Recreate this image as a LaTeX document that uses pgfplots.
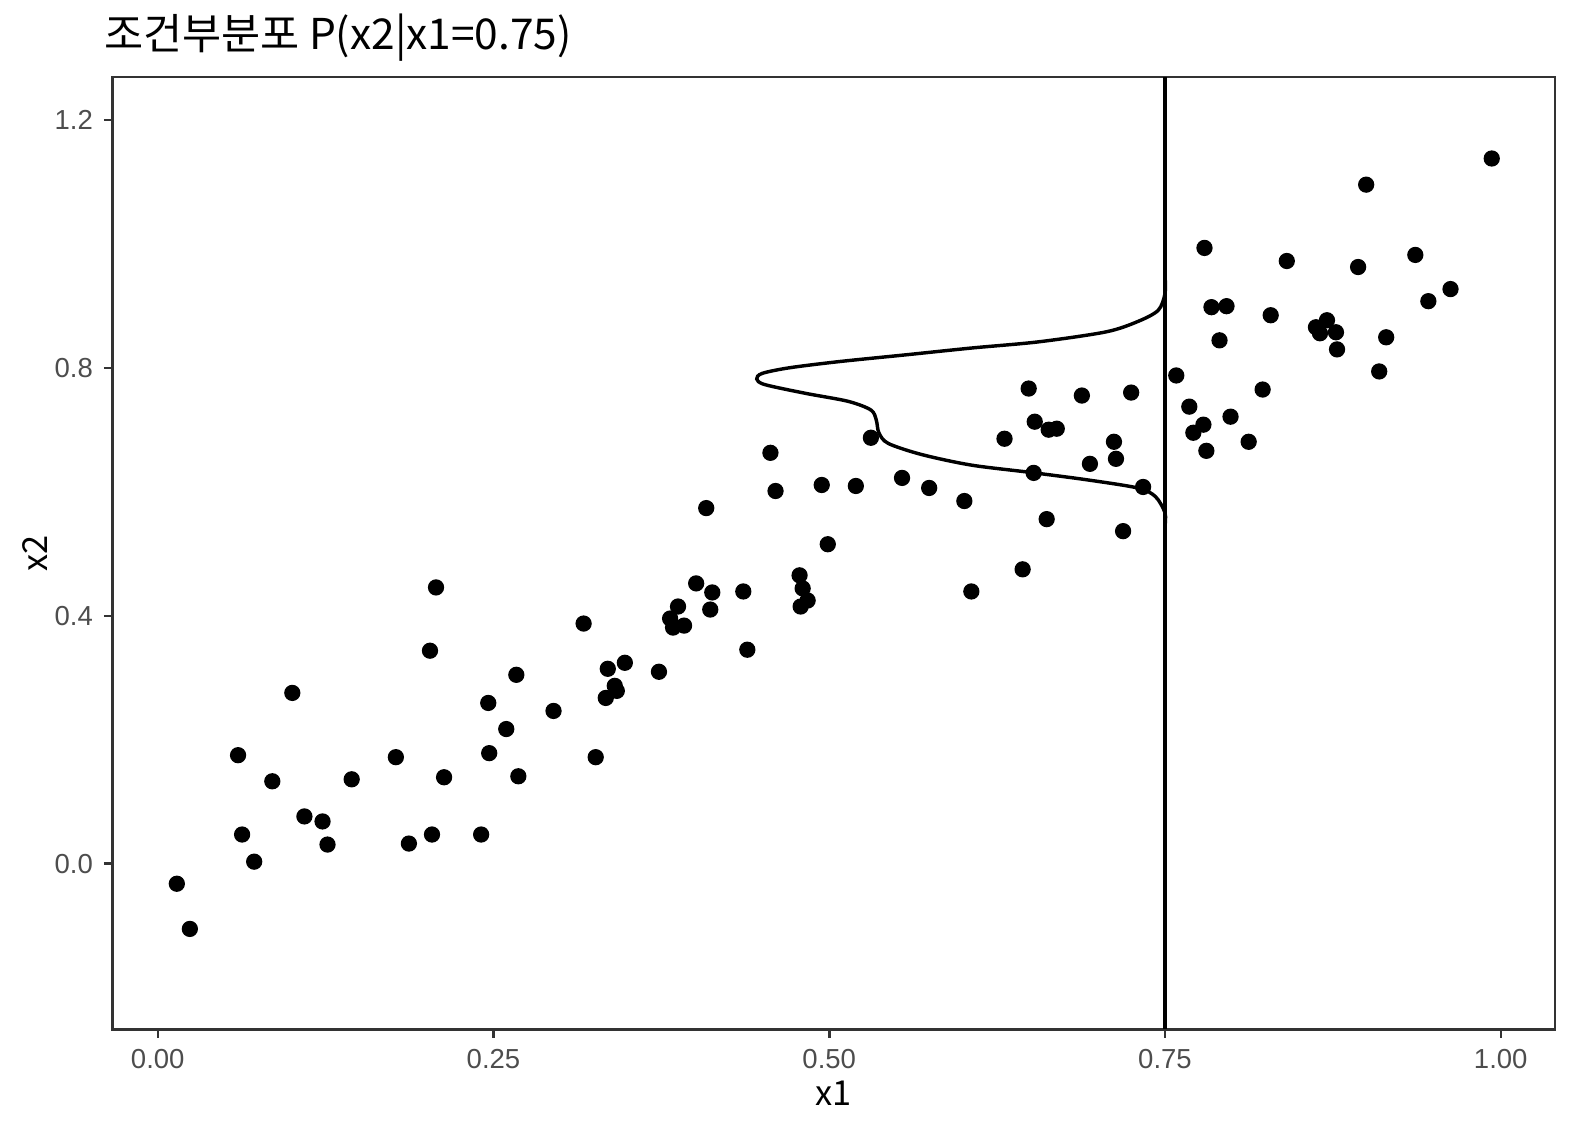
\documentclass[border=0pt]{standalone}
\usepackage{fontspec}
\setmainfont{Noto Sans CJK KR}
\newfontfamily\tickfont{Liberation Sans}
\usepackage{pgfplots}
\pgfplotsset{compat=1.18}
\definecolor{grey20}{HTML}{333333}
\definecolor{grey30}{HTML}{4D4D4D}
\begin{document}
\begin{tikzpicture}
\begin{axis}[
  at={(0,0)}, anchor=south west,
  scale only axis, width=461.6pt, height=304.7pt,
  xmin=-0.0337, xmax=1.0404, ymin=-0.2674, ymax=1.269,
  axis line style={grey20, line width=0.8pt},
  tick align=outside, major tick length=2.75pt,
  tick style={grey20, line width=0.8pt},
  xtick pos=bottom, ytick pos=left,
  xtick={0,0.25,0.5,0.75,1}, xticklabels={0.00,0.25,0.50,0.75,1.00},
  ytick={0,0.4,0.8,1.2}, yticklabels={0.0,0.4,0.8,1.2},
  /pgf/number format/assume math mode=true,
  ticklabel style={font=\tickfont\fontsize{8.8}{10}\selectfont, text=grey30},
]
\addplot[only marks, mark=*, mark size=2.4pt, black] coordinates {
(0.0142,-0.0324) (0.0239,-0.1053) (0.0598,0.1750) (0.0628,0.0470) (0.0718,0.0032)
(0.0853,0.1329) (0.1002,0.2755) (0.1092,0.0762) (0.1227,0.0681) (0.1264,0.0308)
(0.1444,0.1361) (0.1773,0.1718) (0.1870,0.0324) (0.2027,0.3436) (0.2042,0.0470)
(0.2072,0.4457) (0.2132,0.1394) (0.2408,0.0470) (0.2461,0.2593) (0.2468,0.1783)
(0.2595,0.2172) (0.2670,0.3047) (0.2685,0.1410) (0.2947,0.2464) (0.3171,0.3874)
(0.3261,0.1718) (0.3336,0.2674) (0.3351,0.3144) (0.3403,0.2869) (0.3418,0.2788)
(0.3478,0.3241) (0.3732,0.3096) (0.3815,0.3955) (0.3837,0.3809) (0.3874,0.4149)
(0.3919,0.3841) (0.4009,0.4522) (0.4084,0.5737) (0.4114,0.4100) (0.4129,0.4376)
(0.4360,0.4392) (0.4390,0.3452) (0.4562,0.6629) (0.4600,0.6013) (0.4779,0.4652)
(0.4787,0.4149) (0.4802,0.4441) (0.4839,0.4246) (0.4944,0.6110) (0.4989,0.5154)
(0.5198,0.6094) (0.5310,0.6872) (0.5542,0.6224) (0.5744,0.6062) (0.6006,0.5851)
(0.6058,0.4392) (0.6305,0.6856) (0.6440,0.4749) (0.6485,0.7666) (0.6522,0.6305)
(0.6530,0.7131) (0.6619,0.5559) (0.6634,0.7002) (0.6694,0.7018) (0.6881,0.7553)
(0.6941,0.6451) (0.7120,0.6807) (0.7135,0.6532) (0.7188,0.5365) (0.7248,0.7601)
(0.7337,0.6078) (0.7584,0.7877) (0.7681,0.7374) (0.7711,0.6953) (0.7786,0.7083)
(0.7794,0.9935) (0.7808,0.6661) (0.7846,0.8979) (0.7906,0.8444) (0.7958,0.8995)
(0.7988,0.7212) (0.8123,0.6807) (0.8227,0.7650) (0.8287,0.8849) (0.8407,0.9724)
(0.8624,0.8655) (0.8654,0.8558) (0.8706,0.8768) (0.8773,0.8574) (0.8781,0.8298)
(0.8938,0.9627) (0.8998,1.0956) (0.9095,0.7942) (0.9147,0.8493) (0.9364,0.9822)
(0.9461,0.9076) (0.9626,0.9271) (0.9933,1.1378)
};
\addplot[black, line width=1.1pt] coordinates {(0.75,-0.2674) (0.75,1.269)};
\addplot[black, line width=1.1pt, smooth, tension=0.5] coordinates {
(0.75,0.545) (0.75,0.566) (0.743,0.592) (0.730,0.606) (0.693,0.619) (0.651,0.631)
(0.606,0.643) (0.569,0.660) (0.544,0.678) (0.537,0.695) (0.535,0.716) (0.531,0.732)
(0.514,0.746) (0.482,0.759) (0.452,0.773) (0.446,0.782) (0.450,0.791) (0.470,0.800)
(0.507,0.810) (0.557,0.821) (0.606,0.832) (0.656,0.842) (0.706,0.858) (0.730,0.875)
(0.745,0.893) (0.75,0.92) (0.75,0.95)
};
\end{axis}
\node[anchor=base west, inner sep=0pt, font=\fontsize{13.6}{15}\selectfont] at (-2.9pt,313.6pt) {조건부분포 P(x2|x1=0.75)};
\node[font=\fontsize{11}{13}\selectfont] at (230.8pt,-20.4pt) {x1};
\node[rotate=90, font=\fontsize{11}{13}\selectfont] at (-24.7pt,152.35pt) {x2};
\pgfresetboundingbox
\path[use as bounding box] (-36pt,-32.2pt) rectangle (468pt,329.4pt);
\end{tikzpicture}
\end{document}
